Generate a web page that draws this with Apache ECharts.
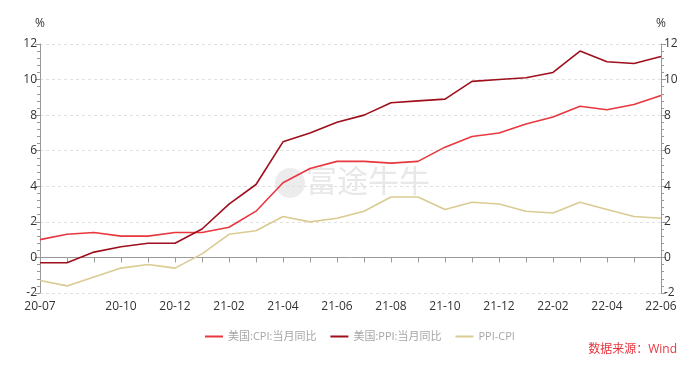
<!DOCTYPE html>
<html><head><meta charset="utf-8">
<script src="https://cdn.jsdelivr.net/npm/echarts@6/dist/echarts.min.js"></script>
<style>html,body{margin:0;padding:0;background:#fff}#c{width:700px;height:365px}</style>
</head><body><div id="c"></div>
<script>
const categories = ['20-07','20-08','20-09','20-10','20-11','20-12','21-01','21-02','21-03','21-04','21-05','21-06','21-07','21-08','21-09','21-10','21-11','21-12','22-01','22-02','22-03','22-04','22-05','22-06'];
const cpi = [1.0,1.3,1.4,1.2,1.2,1.4,1.4,1.7,2.6,4.2,5.0,5.4,5.4,5.3,5.4,6.2,6.8,7.0,7.5,7.9,8.5,8.3,8.6,9.1];
const ppi = [-0.3,-0.3,0.3,0.6,0.8,0.8,1.6,3.0,4.1,6.5,7.0,7.6,8.0,8.7,8.8,8.9,9.9,10.0,10.1,10.4,11.6,11.0,10.9,11.3];
const spread = [-1.3,-1.6,-1.1,-0.6,-0.4,-0.6,0.2,1.3,1.5,2.3,2.0,2.2,2.6,3.4,3.4,2.7,3.1,3.0,2.6,2.5,3.1,2.7,2.3,2.2];
const seriesNames = ['美国:CPI:当月同比','美国:PPI:当月同比','PPI-CPI'];
const colors = ['#E8373F','#9E0F1B','#DACB92'];
const FONT = '"Open Sans","Noto Sans CJK SC",sans-serif';
const chart = echarts.init(document.getElementById('c'), null, {renderer:'canvas'});
const yAxisBase = (pos) => ({
  type:'value', position:pos, min:-2, max:12, interval:2,
  name:'%', nameLocation:'end', nameGap:14,
  nameTextStyle:{color:'#333', fontSize:12, fontFamily:FONT, align:'center'},
  axisLine:{show:true, lineStyle:{color:'#999'}},
  axisTick:{show:true, length:5, lineStyle:{color:'#999'}},
  minorTick:{show:true, splitNumber:5, length:3, lineStyle:{color:'#999'}},
  axisLabel:{color:'#333', fontSize:12, fontFamily:FONT, margin:3},
  splitLine:{show:pos==='left', lineStyle:{color:'#e0e0e0', type:[3,3]}}
});
chart.setOption({
  animation:false,
  color:colors,
  grid:{left:40, right:39, top:44, bottom:72, containLabel:false},
  legend:{
    data:seriesNames, left:200, top:326, itemWidth:18, itemHeight:2, itemGap:14,
    icon:'rect',
    textStyle:{color:'#a6a6a6', fontSize:11, fontFamily:FONT}
  },
  graphic:[
    {type:'text', right:23, top:344, style:{text:'数据来源：Wind', fill:'#E8373F', fontSize:12, fontFamily:FONT}},
    {type:'circle', shape:{cx:290, cy:183, r:15}, style:{fill:'#ececec'}, z:-1, silent:true},
    {type:'text', left:306, top:165, style:{text:'富途牛牛', fill:'#e8e8e8', fontSize:31, fontFamily:'"Noto Sans CJK SC",sans-serif'}, z:-1, silent:true}
  ],
  xAxis:{
    type:'category', data:categories, boundaryGap:false,
    axisLine:{lineStyle:{color:'#999'}},
    axisTick:{show:true, interval:0, length:5, lineStyle:{color:'#999'}},
    axisLabel:{color:'#333', fontSize:12, fontFamily:FONT, margin:8,
      interval:(i)=> i===0 || (i>=3 && i%2===1)},
    splitLine:{show:false}
  },
  yAxis:[yAxisBase('left'), yAxisBase('right')],
  series:[
    {name:seriesNames[0], type:'line', data:cpi, symbol:'none', lineStyle:{width:1.6}},
    {name:seriesNames[1], type:'line', data:ppi, symbol:'none', lineStyle:{width:1.6}},
    {name:seriesNames[2], type:'line', data:spread, symbol:'none', lineStyle:{width:1.6}}
  ]
});
</script></body></html>
